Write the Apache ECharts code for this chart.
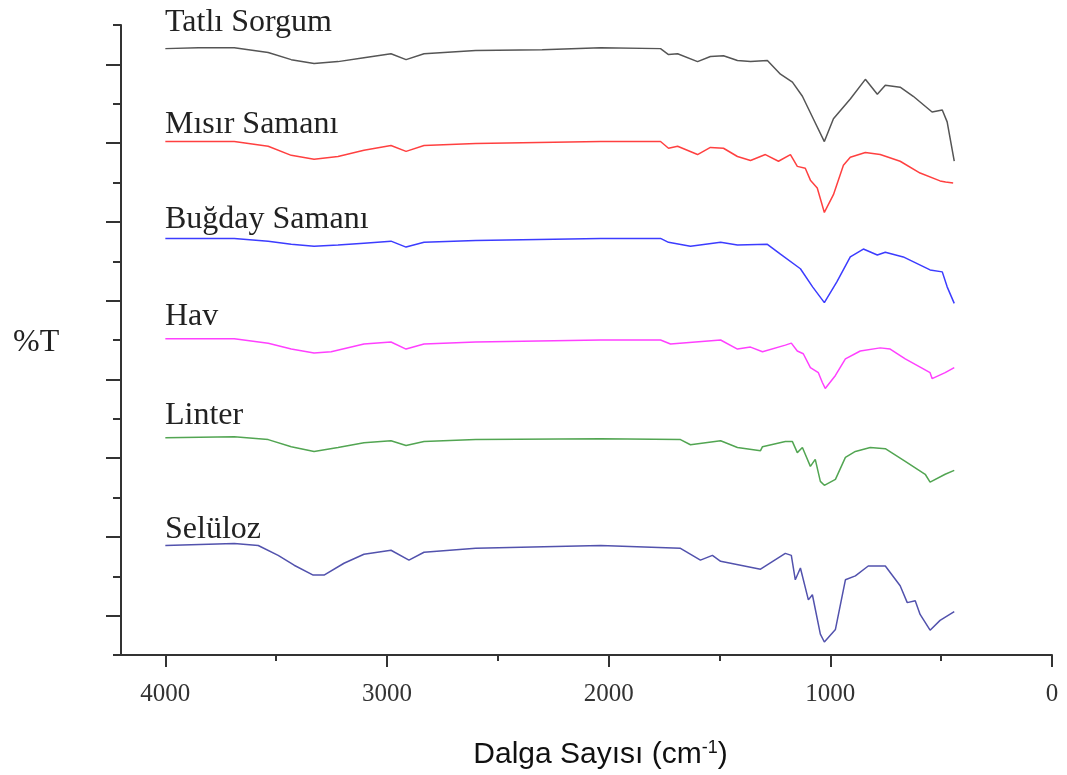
<!DOCTYPE html>
<html>
<head>
<meta charset="utf-8">
<script src="https://cdn.jsdelivr.net/npm/echarts@6/dist/echarts.min.js"></script>
<style>
  html, body { margin: 0; padding: 0; background: #fff; }
  #chart { width: 1067px; height: 775px; }
</style>
</head>
<body>
<div id="chart"></div>
<script>
// wavenumber ticks (cm-1)
var xTicks = [0, 1000, 2000, 3000, 4000];
var xMinorTicks = [500, 1500, 2500, 3500];
var yTicks = [1, 3, 5, 7, 9, 11, 13, 15];
var yMinorTicks = [0, 2, 4, 6, 8, 10, 12, 14, 16];

var names = ['Tatlı Sorgum', 'Mısır Samanı', 'Buğday Samanı', 'Hav', 'Linter', 'Selüloz'];
var colors = ['#555555', '#ff4040', '#3c3cff', '#ff40ff', '#52a552', '#5252ad'];

// spectra, offset %T (arbitrary units)
var sorgumX = [4000, 3850, 3689, 3536, 3432, 3329, 3221, 3104, 2982, 2914, 2833, 2600, 2300, 2036, 1766, 1730, 1689, 1599, 1541, 1482, 1419, 1360, 1284, 1225, 1171, 1126, 1077, 1027, 986, 910, 842, 788, 752, 685, 626, 541, 495, 473, 441];
var sorgumY = [15.40, 15.42, 15.42, 15.30, 15.12, 15.02, 15.07, 15.17, 15.27, 15.12, 15.27, 15.35, 15.37, 15.42, 15.40, 15.25, 15.27, 15.07, 15.20, 15.22, 15.10, 15.07, 15.10, 14.75, 14.55, 14.19, 13.62, 13.04, 13.62, 14.12, 14.62, 14.24, 14.47, 14.42, 14.19, 13.79, 13.84, 13.54, 12.54];

var misirX = [4000, 3689, 3536, 3432, 3329, 3221, 3104, 2982, 2914, 2833, 2600, 2036, 1766, 1730, 1689, 1599, 1541, 1482, 1419, 1360, 1293, 1234, 1180, 1149, 1113, 1090, 1059, 1027, 986, 941, 910, 842, 775, 685, 595, 505, 480, 446];
var misirY = [13.04, 13.04, 12.92, 12.69, 12.59, 12.66, 12.82, 12.94, 12.79, 12.94, 12.99, 13.04, 13.04, 12.87, 12.92, 12.71, 12.89, 12.87, 12.66, 12.56, 12.71, 12.54, 12.71, 12.41, 12.36, 12.06, 11.86, 11.24, 11.69, 12.44, 12.64, 12.76, 12.71, 12.54, 12.24, 12.04, 12.01, 11.99];

var bugdayX = [4000, 3689, 3536, 3432, 3329, 3221, 3104, 2982, 2914, 2833, 2600, 2036, 1766, 1730, 1631, 1495, 1419, 1284, 1225, 1135, 1080, 1027, 970, 910, 851, 788, 752, 671, 550, 495, 473, 441];
var bugdayY = [10.58, 10.58, 10.51, 10.43, 10.38, 10.41, 10.46, 10.51, 10.36, 10.48, 10.53, 10.58, 10.58, 10.48, 10.38, 10.48, 10.41, 10.43, 10.18, 9.81, 9.35, 8.95, 9.48, 10.11, 10.31, 10.16, 10.23, 10.11, 9.78, 9.73, 9.35, 8.93];

var havX = [4000, 3689, 3536, 3432, 3329, 3252, 3104, 2982, 2914, 2833, 2600, 2036, 1766, 1721, 1495, 1419, 1360, 1306, 1203, 1176, 1149, 1122, 1090, 1054, 1036, 1023, 977, 932, 865, 775, 730, 662, 550, 541, 482, 441];
var havY = [8.03, 8.03, 7.92, 7.77, 7.67, 7.70, 7.90, 7.95, 7.77, 7.90, 7.95, 8.00, 8.00, 7.90, 8.00, 7.77, 7.82, 7.70, 7.87, 7.92, 7.72, 7.65, 7.30, 7.17, 6.92, 6.77, 7.10, 7.52, 7.72, 7.80, 7.77, 7.52, 7.17, 7.02, 7.17, 7.30];

var linterX = [4000, 3689, 3536, 3432, 3329, 3221, 3104, 2982, 2914, 2833, 2600, 2036, 1676, 1631, 1495, 1419, 1315, 1306, 1203, 1171, 1149, 1126, 1090, 1068, 1045, 1027, 977, 932, 887, 820, 752, 662, 572, 550, 482, 441];
var linterY = [5.52, 5.54, 5.47, 5.29, 5.17, 5.27, 5.39, 5.44, 5.32, 5.42, 5.47, 5.49, 5.47, 5.34, 5.44, 5.27, 5.19, 5.29, 5.42, 5.42, 5.14, 5.27, 4.79, 4.97, 4.41, 4.31, 4.46, 5.02, 5.17, 5.27, 5.24, 4.92, 4.59, 4.39, 4.59, 4.69];

var selulozX = [4000, 3689, 3581, 3491, 3419, 3333, 3284, 3194, 3104, 2982, 2901, 2833, 2600, 2036, 1676, 1586, 1532, 1495, 1315, 1203, 1176, 1158, 1135, 1099, 1081, 1045, 1027, 977, 932, 887, 829, 752, 685, 653, 617, 595, 550, 505, 441];
var selulozY = [2.78, 2.83, 2.78, 2.53, 2.28, 2.03, 2.03, 2.33, 2.56, 2.66, 2.41, 2.61, 2.71, 2.78, 2.71, 2.41, 2.53, 2.38, 2.18, 2.58, 2.53, 1.91, 2.21, 1.40, 1.53, 0.53, 0.33, 0.65, 1.91, 2.01, 2.26, 2.26, 1.76, 1.33, 1.38, 1.03, 0.63, 0.88, 1.10];

var spectra = [
    [sorgumX, sorgumY],
    [misirX, misirY],
    [bugdayX, bugdayY],
    [havX, havY],
    [linterX, linterY],
    [selulozX, selulozY]
];

// label placement above each trace
var labelTops = [7, 109, 204, 301, 400, 514];

var chart = echarts.init(document.getElementById('chart'));

var axisColor = '#333';
var serif = '"Liberation Serif", "Times New Roman", serif';

chart.setOption({
    animation: false,
    grid: { left: 121, right: 15, top: 25, bottom: 112 },
    xAxis: [{
        type: 'value',
        min: 0,
        max: 4200,
        inverse: true,
        interval: 1000,
        splitLine: { show: false },
        axisLine: { lineStyle: { color: axisColor, width: 2 } },
        axisTick: { customValues: xTicks, length: 12, lineStyle: { color: axisColor, width: 2 } },
        axisLabel: {
            customValues: xTicks,
            margin: 27,
            fontFamily: serif,
            fontSize: 25,
            color: '#333',
            formatter: function (v) { return String(v); }
        },
        name: 'Dalga Sayısı (cm{sup|-1})',
        nameLocation: 'middle',
        nameGap: 84,
        nameTextStyle: {
            fontFamily: '"Liberation Sans", Arial, sans-serif',
            fontSize: 30,
            color: '#111',
            padding: [0, 0, 0, 28],
            rich: {
                sup: {
                    fontFamily: '"Liberation Sans", Arial, sans-serif',
                    fontSize: 18,
                    color: '#111',
                    verticalAlign: 'top',
                    padding: [0, 0, 14, 0]
                }
            }
        }
    }, {
        type: 'value',
        min: 0,
        max: 4200,
        inverse: true,
        position: 'bottom',
        splitLine: { show: false },
        axisLine: { show: false },
        axisTick: { customValues: xMinorTicks, length: 6, lineStyle: { color: axisColor, width: 2 } },
        axisLabel: { show: false }
    }],
    yAxis: [{
        type: 'value',
        min: 0,
        max: 16,
        position: 'left',
        splitLine: { show: false },
        axisLine: { show: true, onZero: false, lineStyle: { color: axisColor, width: 2 } },
        axisTick: { show: true, customValues: yTicks, length: 15, lineStyle: { color: axisColor, width: 2 } },
        axisLabel: { show: false }
    }, {
        type: 'value',
        min: 0,
        max: 16,
        position: 'left',
        splitLine: { show: false },
        axisLine: { show: false, onZero: false },
        axisTick: { show: true, customValues: yMinorTicks, length: 8, lineStyle: { color: axisColor, width: 2 } },
        axisLabel: { show: false }
    }],
    graphic: [{
        type: 'text',
        left: 13,
        top: 327,
        style: { text: '%T', font: '32px ' + serif, fill: '#222' }
    }].concat(names.map(function (name, i) {
        return {
            type: 'text',
            left: 165,
            top: labelTops[i],
            style: { text: name, font: '32px ' + serif, fill: '#222' }
        };
    })),
    series: spectra.map(function (s, i) {
        return {
            name: names[i],
            type: 'line',
            xAxisIndex: 0,
            yAxisIndex: 0,
            showSymbol: false,
            symbol: 'none',
            lineStyle: { color: colors[i], width: 1.5 },
            data: s[0].map(function (x, j) { return [x, s[1][j]]; })
        };
    })
});
</script>
</body>
</html>
